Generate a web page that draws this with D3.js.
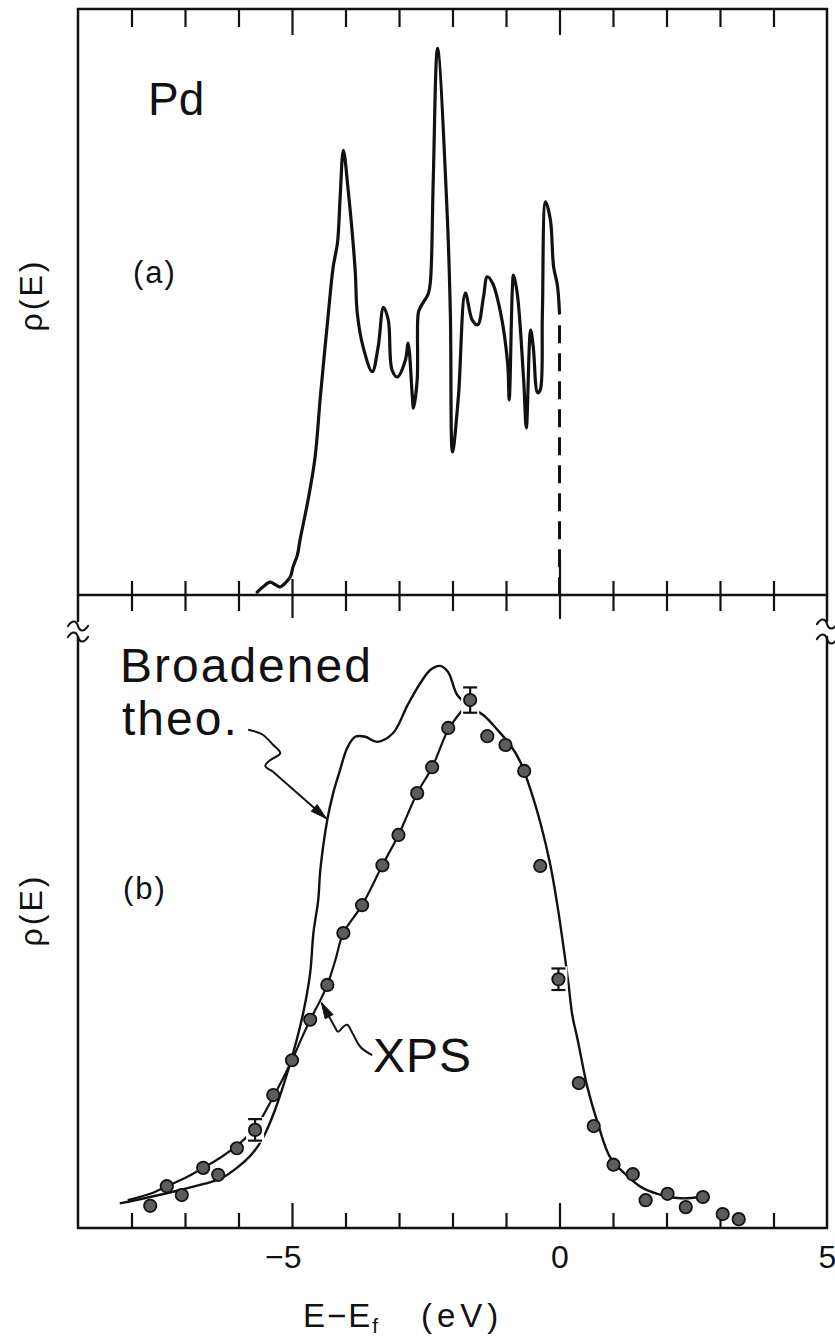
<!DOCTYPE html>
<html>
<head>
<meta charset="utf-8">
<script src="https://cdn.jsdelivr.net/npm/d3@7"></script>
<style>
  html, body { margin: 0; padding: 0; background: #fff; }
  svg { display: block; }
  text { font-family: "Liberation Sans", "DejaVu Sans", sans-serif; fill: #111; }
</style>
</head>
<body>
<svg id="chart" width="835" height="1342"></svg>
<script>
// Pd density of states: (a) calculated rho(E), (b) broadened theory compared with XPS.

// (a) calculated density of states, [E - Ef (eV), rho (arb.)]
const dosCurve = [
  [-5.65,0.05],[-5.54,0.14],[-5.41,0.22],[-5.30,0.17],[-5.22,0.14],[-5.11,0.22],
  [-5.03,0.31],[-4.98,0.48],[-4.90,0.68],[-4.85,0.94],[-4.70,1.62],[-4.57,2.34],
  [-4.47,3.38],[-4.32,4.81],[-4.23,5.60],[-4.15,6.01],[-4.10,6.79],[-4.04,7.59],
  [-3.95,6.91],[-3.82,5.55],[-3.78,4.81],[-3.67,4.23],[-3.50,3.81],[-3.39,4.23],
  [-3.29,4.91],[-3.20,4.69],[-3.13,3.84],[-3.03,3.72],[-2.88,4.01],[-2.83,4.30],
  [-2.75,3.38],[-2.73,3.19],[-2.66,3.67],[-2.64,4.81],[-2.60,4.91],[-2.45,5.15],
  [-2.41,5.38],[-2.36,7.08],[-2.28,9.33],[-2.10,6.52],[-2.04,4.81],[-2.00,2.44],
  [-1.89,3.38],[-1.76,5.15],[-1.63,4.69],[-1.53,4.61],[-1.42,5.09],[-1.35,5.43],
  [-1.25,5.32],[-1.10,4.81],[-0.97,3.96],[-0.94,3.33],[-0.88,5.26],[-0.86,5.46],
  [-0.79,5.15],[-0.67,3.67],[-0.62,2.85],[-0.54,4.52],[-0.49,4.23],[-0.41,3.45],
  [-0.36,3.50],[-0.32,4.81],[-0.26,6.71],[-0.17,6.40],[-0.11,5.60],[-0.04,5.29],
  [0.00,4.81]
];
// Fermi level cut-off of the calculated curve
const fermiEnergy = 0;

// (b) broadened theoretical curve
const theoCurve = [
  [-8.22,0.39],[-7.65,0.49],[-7.09,0.60],[-6.63,0.70],[-6.31,0.79],[-6.03,0.95],
  [-5.78,1.14],[-5.60,1.34],[-5.47,1.55],[-5.32,1.86],[-5.17,2.23],[-4.98,2.76],
  [-4.79,3.40],[-4.66,4.03],[-4.60,4.66],[-4.51,5.18],[-4.47,5.66],[-4.34,6.45],
  [-4.23,6.87],[-4.10,7.24],[-3.97,7.58],[-3.82,7.76],[-3.63,7.76],[-3.41,7.68],
  [-3.11,7.82],[-2.84,8.26],[-2.60,8.61],[-2.41,8.82],[-2.23,8.88],[-2.08,8.78],
  [-1.91,8.42],[-1.67,8.23],[-1.42,8.10],[-1.16,7.87],[-0.92,7.63],[-0.73,7.36],
  [-0.54,6.92],[-0.36,6.41],[-0.17,5.73],[-0.04,5.10],[0.07,4.47],[0.17,3.84],
  [0.24,3.36],[0.34,2.97],[0.52,2.23],[0.71,1.67],[0.95,1.11],[1.27,0.82],
  [1.52,0.65],[1.83,0.54],[2.26,0.47],[2.64,0.49]
];

// (b) smooth line drawn through the XPS points on the low-energy side
const xpsFitCurve = [
  [-8.07,0.44],[-7.65,0.54],[-7.34,0.66],[-7.00,0.79],[-6.66,0.95],[-6.34,1.11],
  [-6.03,1.30],[-5.69,1.58],[-5.35,2.07],[-5.00,2.65],[-4.85,2.94],[-4.66,3.29],
  [-4.47,3.60],[-4.34,3.84],[-4.19,4.23],[-4.04,4.66],[-3.69,5.10],[-3.31,5.73],
  [-3.01,6.21],[-2.66,6.87],[-2.38,7.28],[-2.08,7.87],[-1.82,8.18]
];

// (b) XPS measurements
const xpsEnergy = [
  -7.65,-7.34,-7.06,-6.66,-6.38,-6.03,-5.69,-5.35,-5.00,-4.66,-4.34,-4.04,
  -3.69,-3.31,-3.01,-2.66,-2.38,-2.08,-1.67,-1.35,-1.01,-0.66,-0.36,-0.02,
  0.36,0.64,1.01,1.37,1.61,2.02,2.36,2.68,3.05,3.35
];
const xpsValue = [
  0.35,0.66,0.52,0.95,0.84,1.26,1.55,2.10,2.65,3.29,3.84,4.66,
  5.10,5.73,6.21,6.87,7.28,7.90,8.34,7.77,7.63,7.22,5.72,3.93,
  2.29,1.61,1.00,0.85,0.44,0.54,0.33,0.49,0.22,0.14
];
// error bar half-widths (0 = no bar)
const xpsError = [
  0,0,0,0,0,0,0.17,0,0,0,0,0,
  0,0,0,0,0,0,0.20,0,0,0,0,0.17,
  0,0,0,0,0,0,0,0,0,0
];

// axis ticks
const minorTicks = [-8,-7,-6,-4,-3,-2,-1,1,2,3,4];
const majorTicks = [-5,0];
const tickLabels = [-5,0,5];

const svg = d3.select("#chart");
const ink = "#111";

const x  = d3.scaleLinear().domain([-9, 5]).range([78, 827]);
const yA = d3.scaleLinear().domain([0, 10]).range([595, 9]);
const yB = d3.scaleLinear().domain([0, 10]).range([1228, 595]);

// ---- frames -------------------------------------------------------------
const frame = svg.append("g").attr("fill", "none").attr("stroke", ink)
  .attr("stroke-width", 2.5).attr("stroke-linecap", "round");
frame.append("path").attr("d", "M78,621 V9 H827 V621");
frame.append("path").attr("d", "M78,595 H827");
frame.append("path").attr("d", "M78,637 V1228 H827 V637");
// axis-break marks on both sides
[[68, 626], [68, 637], [817, 624], [817, 639]].forEach(([bx, by]) => {
  frame.append("path").attr("stroke-width", 2.2)
    .attr("d", `M${bx},${by} c4,-6 8,-6 10,0 s6,6 10,0`);
});

// ---- ticks ----------------------------------------------------------------
function tickRow(axisFn, values, size, y) {
  const g = svg.append("g").attr("transform", `translate(0,${y})`)
    .call(axisFn(x).tickValues(values).tickSizeInner(size).tickSizeOuter(0).tickFormat(""));
  g.select(".domain").remove();
  g.selectAll(".tick line").attr("stroke", ink).attr("stroke-width", 2.2);
}
// top border: ticks pointing down
tickRow(d3.axisTop, minorTicks, -18, 9);
tickRow(d3.axisTop, majorTicks, -26, 9);
// shared middle axis: ticks crossing both ways
tickRow(d3.axisTop, minorTicks, 14, 595);
tickRow(d3.axisBottom, minorTicks, 16, 595);
tickRow(d3.axisTop, [-5], 16, 595);
tickRow(d3.axisBottom, [-5], 23, 595);
tickRow(d3.axisTop, [0], 36, 595);
tickRow(d3.axisBottom, [0], 24, 595);
// bottom axis: ticks pointing up
tickRow(d3.axisBottom, minorTicks, -15, 1228);
tickRow(d3.axisBottom, majorTicks, -25, 1228);

// tick labels
const lab = svg.append("g").attr("transform", "translate(0,1228)")
  .call(d3.axisBottom(x).tickValues(tickLabels).tickSize(0).tickPadding(17)
    .tickFormat(d => d < 0 ? "\u2212" + Math.abs(d) : String(d)));
lab.select(".domain").remove();
lab.selectAll("text")
  .attr("font-size", 32).attr("font-family", "Liberation Sans, DejaVu Sans, sans-serif")
  .attr("fill", ink)
  .attr("dx", d => d < 0 ? "-0.29em" : 0);

// x-axis title
const xt = svg.append("text").attr("x", 303).attr("y", 1327).attr("font-size", 33);
xt.append("tspan").attr("letter-spacing", 2).text("E\u2212E");
xt.append("tspan").attr("font-size", 21).attr("dy", 6).text("f");
xt.append("tspan").attr("x", 421).attr("dy", -6).attr("letter-spacing", 5).text("(eV)");

// y-axis titles
[[31, 295], [31, 910]].forEach(([tx, ty]) => {
  svg.append("text").attr("transform", `translate(${tx},${ty}) rotate(-90)`)
    .attr("text-anchor", "middle").attr("dy", "0.35em")
    .attr("font-size", 32).attr("letter-spacing", 3).text("\u03C1(E)");
});

// ---- panel (a) ------------------------------------------------------------
const lineA = d3.line().x(d => x(d[0])).y(d => yA(d[1])).curve(d3.curveCatmullRom.alpha(0.5));
svg.append("path").datum(dosCurve).attr("d", lineA)
  .attr("fill", "none").attr("stroke", ink).attr("stroke-width", 3.2)
  .attr("stroke-linejoin", "round").attr("stroke-linecap", "round");
const lastDos = dosCurve[dosCurve.length - 1];
svg.append("line")
  .attr("x1", x(fermiEnergy)).attr("x2", x(fermiEnergy))
  .attr("y1", yA(lastDos[1]) + 12).attr("y2", yA(0))
  .attr("stroke", ink).attr("stroke-width", 3).attr("stroke-dasharray", "18,10");

svg.append("text").attr("x", 148).attr("y", 115).attr("font-size", 46).text("Pd");
svg.append("text").attr("x", 133).attr("y", 283).attr("font-size", 31).attr("letter-spacing", 2).text("(a)");

// ---- panel (b) ------------------------------------------------------------
svg.append("text").attr("x", 123).attr("y", 899).attr("font-size", 31).attr("letter-spacing", 2).text("(b)");

const lineB = d3.line().x(d => x(d[0])).y(d => yB(d[1])).curve(d3.curveCatmullRom.alpha(0.5));
svg.append("path").datum(theoCurve).attr("d", lineB)
  .attr("fill", "none").attr("stroke", ink).attr("stroke-width", 2.4)
  .attr("stroke-linejoin", "round");
svg.append("path").datum(xpsFitCurve).attr("d", lineB)
  .attr("fill", "none").attr("stroke", ink).attr("stroke-width", 2.2)
  .attr("stroke-linejoin", "round");

const xps = xpsEnergy.map((e, i) => ({ e, v: xpsValue[i], err: xpsError[i] }));
const withErr = xps.filter(d => d.err > 0);

// clear the lines behind the error bars
svg.append("g").selectAll("rect").data(withErr).join("rect")
  .attr("x", d => x(d.e) - 9)
  .attr("y", d => yB(d.v + d.err) - 2)
  .attr("width", 18)
  .attr("height", d => yB(d.v - d.err) - yB(d.v + d.err) + 4)
  .attr("fill", "#fff");

const eb = svg.append("g").attr("stroke", ink).attr("stroke-width", 2.2);
withErr.forEach(d => {
  const cx = x(d.e), t = yB(d.v + d.err), b = yB(d.v - d.err);
  eb.append("line").attr("x1", cx).attr("x2", cx).attr("y1", t).attr("y2", b);
  eb.append("line").attr("x1", cx - 7).attr("x2", cx + 7).attr("y1", t).attr("y2", t);
  eb.append("line").attr("x1", cx - 7).attr("x2", cx + 7).attr("y1", b).attr("y2", b);
});

svg.append("g").selectAll("circle").data(xps).join("circle")
  .attr("cx", d => x(d.e)).attr("cy", d => yB(d.v)).attr("r", 6.2)
  .attr("fill", "#5c5c5c").attr("stroke", ink).attr("stroke-width", 1.8);

// labels with pointer arrows
svg.append("text").attr("x", 120).attr("y", 682).attr("font-size", 48).attr("letter-spacing", 2).text("Broadened");
svg.append("text").attr("x", 122).attr("y", 735).attr("font-size", 48).attr("letter-spacing", 2).text("theo.");
svg.append("text").attr("x", 373).attr("y", 1072).attr("font-size", 48).attr("letter-spacing", 1).text("XPS");

function pointer(squiggle, tip) {
  const pts = squiggle.map(p => [x(p[0]), yB(p[1])]);
  const tp = [x(tip[0]), yB(tip[1])];
  svg.append("path")
    .attr("d", d3.line().curve(d3.curveCatmullRom.alpha(0.5))(pts) + `L${tp[0]},${tp[1]}`)
    .attr("fill", "none").attr("stroke", ink).attr("stroke-width", 2);
  const last = pts[pts.length - 1];
  const ang = Math.atan2(tp[1] - last[1], tp[0] - last[0]);
  const L = 16, Wd = 4.5;
  const bx = tp[0] - L * Math.cos(ang), by = tp[1] - L * Math.sin(ang);
  const nx = -Math.sin(ang) * Wd, ny = Math.cos(ang) * Wd;
  svg.append("path")
    .attr("d", `M${tp[0]},${tp[1]} L${bx + nx},${by + ny} L${bx - nx},${by - ny} Z`)
    .attr("fill", ink).attr("stroke", ink).attr("stroke-width", 1);
}
pointer([[-5.82,7.87],[-5.56,7.80],[-5.35,7.63],[-5.22,7.50],[-5.41,7.39],[-5.50,7.30],[-5.37,7.22]], [-4.36,6.47]);
pointer([[-3.50,2.73],[-3.72,2.86],[-3.87,3.08],[-3.97,3.21],[-4.04,3.18],[-4.14,3.10],[-4.19,3.16]], [-4.45,3.56]);
</script>
</body>
</html>
